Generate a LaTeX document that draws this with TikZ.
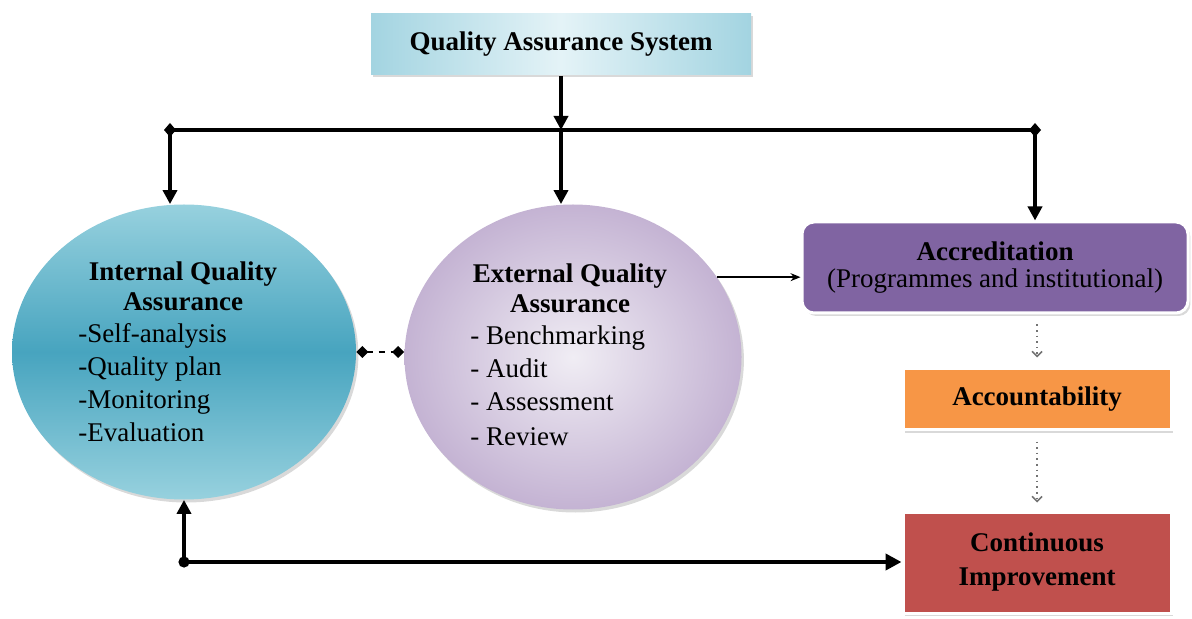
\documentclass[tikz,border=0pt]{standalone}
\usepackage{fontspec}
\setmainfont{Liberation Serif}
\usetikzlibrary{positioning,calc,arrows.meta,shapes.geometric,shadows}
\definecolor{qasdark}{HTML}{A3D4E1}
\definecolor{qaslight}{HTML}{E4F3F7}
\definecolor{iqadark}{HTML}{47A4BF}
\definecolor{iqalight}{HTML}{97D1DE}
\definecolor{eqadark}{HTML}{C4B3D3}
\definecolor{eqalight}{HTML}{F0EDF4}
\definecolor{accfill}{HTML}{8064A2}
\definecolor{acctfill}{HTML}{F79646}
\definecolor{cifill}{HTML}{C0504D}
\newcommand{\qafont}{\fontsize{13.5}{16.5}\selectfont}
\tikzstyle{edge} = [-{Triangle[length=7pt,width=7pt]}, line width=2pt]
\tikzstyle{thin edge} = [-{Stealth[length=5pt,width=4pt]}, line width=0.7pt]
\tikzstyle{dotedge} = [dotted, line width=0.8pt, draw=black!55, -{Straight Barb[length=2.5pt,width=5pt]}]
\tikzstyle{box} = [rectangle, inner sep=0pt, draw=white, line width=1.5pt, drop shadow={shadow xshift=1.2pt, shadow yshift=-1.5pt, opacity=0.3}]
\tikzstyle{oval} = [ellipse, inner sep=0pt, drop shadow={shadow xshift=1.2pt, shadow yshift=-1.5pt, opacity=0.3}]

\begin{document}
\begin{tikzpicture}[x=0.5pt, y=-0.5pt]
\tikzstyle{every node}=[align=center, inner sep=1pt, font=\qafont]
\useasboundingbox (0,0) rectangle (1192,619);
	\node[box, draw=none, left color=qasdark, right color=qasdark, middle color=qaslight, minimum width=190pt, minimum height=30.5pt] (qas) at (561,44) {\textbf{Quality Assurance System}};
	\node[oval, top color=iqalight, bottom color=iqalight, middle color=iqadark, minimum width=172pt, minimum height=147.5pt] (iqa) at (184,352) {};
	\node[oval, inner color=eqalight, outer color=eqadark, minimum width=168.5pt, minimum height=152.5pt] (eqa) at (573,357) {};
	\node[box, rounded corners=6pt, fill=accfill, minimum width=193pt, minimum height=45.5pt] (acc) at (995,267.5) {\textbf{Accreditation}\\[-3pt](Programmes and institutional)};
	\node[box, fill=acctfill, minimum width=134pt, minimum height=30.5pt] (acct) at (1037,399.5) {\textbf{Accountability}};
	\node[box, fill=cifill, minimum width=134pt, minimum height=50.5pt] (ci) at (1037,562.5) {\textbf{Continuous}\\[0.5pt]\textbf{Improvement}};

	\node (iqahead) at (183,286) {\textbf{Internal Quality}\\[-1.5pt]\textbf{Assurance}};
	\node[anchor=west, align=left] (iqalist) at (76,383) {-Self-analysis\\-Quality plan\\-Monitoring\\-Evaluation};
	\node (eqahead) at (570,288) {\textbf{External Quality}\\[-1.5pt]\textbf{Assurance}};
	\node[anchor=west, align=left] (eqalist) at (468,386) {- Benchmarking\\- Audit\\- Assessment\\[1pt]- Review};

	\coordinate (hub) at (561,130);
	\coordinate (hubl) at (170,130);
	\coordinate (hubr) at (1035,130);
	\coordinate (corner) at (184,562);

	\draw[edge]  (qas) -- (hub);
	\draw[line width=2pt, shorten <=-3pt, shorten >=-3pt, {Diamond[length=6pt,width=7pt]}-{Diamond[length=6pt,width=7pt]}] (hubl) -- (hubr);
	\draw[edge]  (hubl) -- (hubl |- iqa.north);
	\draw[edge]  (hub) -- (hub |- eqa.north);
	\draw[edge]  (hubr) -- (hubr |- acc.north);
	\draw[dashed, line width=1.2pt, {Diamond[length=6pt,width=6pt]}-{Diamond[length=6pt,width=6pt]}] (iqa.east) -- (iqa.east -| eqa.west);
	\draw[thin edge]  (eqa.29) -- (eqa.29 -| acc.west);
	\draw[dotedge, shorten <=5pt, shorten >=5pt]  (acct.north |- acc.south) -- (acct.north);
	\draw[dotedge, shorten <=5pt, shorten >=4pt]  (acct.south) -- (ci.north);
	\fill (corner) circle (2.8pt);
	\draw[edge]  (corner) -- (corner |- iqa.south);
	\draw[-{Triangle[length=8pt,width=8pt]}, line width=2pt]  (corner) -- (corner -| ci.west);
\end{tikzpicture}
\end{document}
